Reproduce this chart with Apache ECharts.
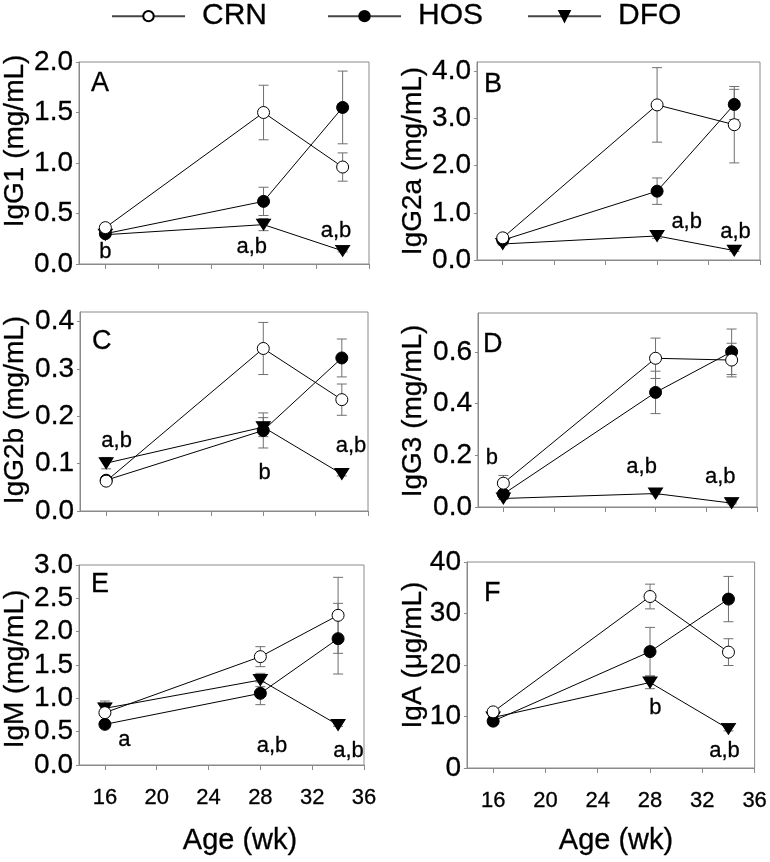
<!DOCTYPE html>
<html><head><meta charset="utf-8">
<script src="https://cdn.jsdelivr.net/npm/echarts@6/dist/echarts.min.js"></script>
<style>html,body{margin:0;padding:0;background:#fff}#c{width:770px;height:862px}</style>
</head><body><div id="c"></div>
<script>
// ---------- data ----------
const ages = [16, 28, 34];
const ageTicks = [16, 20, 24, 28, 32, 36];
const groupNames = ['CRN', 'HOS', 'DFO'];

// A: IgG1 (mg/mL)
const igg1CRN = [0.36, 1.50, 0.96];   const igg1CRNErr = [0.03, 0.27, 0.14];
const igg1HOS = [0.30, 0.62, 1.55];   const igg1HOSErr = [0.02, 0.14, 0.36];
const igg1DFO = [0.29, 0.39, 0.13];   const igg1DFOErr = [0.02, 0.06, 0.01];
const igg1Ticks = [0, 0.5, 1.0, 1.5, 2.0];
const igg1Notes = [[16, 0.12, 'b'], [27.1, 0.17, 'a,b'], [33.5, 0.33, 'a,b']];

// B: IgG2a (mg/mL)
const igg2aCRN = [0.47, 3.29, 2.87];  const igg2aCRNErr = [0.05, 0.79, 0.81];
const igg2aHOS = [0.42, 1.46, 3.30];  const igg2aHOSErr = [0.04, 0.28, 0.32];
const igg2aDFO = [0.34, 0.51, 0.20];  const igg2aDFOErr = [0.02, 0.05, 0.02];
const igg2aTicks = [0, 1.0, 2.0, 3.0, 4.0];
const igg2aNotes = [[30.3, 0.80, 'a,b'], [34.1, 0.59, 'a,b']];

// C: IgG2b (mg/mL)
const igg2bCRN = [0.063, 0.343, 0.235]; const igg2bCRNErr = [0.005, 0.055, 0.033];
const igg2bHOS = [0.065, 0.170, 0.323]; const igg2bHOSErr = [0.005, 0.037, 0.040];
const igg2bDFO = [0.101, 0.177, 0.078]; const igg2bDFOErr = [0.012, 0.020, 0.004];
const igg2bTicks = [0, 0.1, 0.2, 0.3, 0.4];
const igg2bNotes = [[16.8, 0.147, 'a,b'], [28.1, 0.081, 'b'], [34.7, 0.137, 'a,b']];

// D: IgG3 (mg/mL)
const igg3CRN = [0.092, 0.575, 0.568]; const igg3CRNErr = [0.030, 0.078, 0.065];
const igg3HOS = [0.050, 0.443, 0.600]; const igg3HOSErr = [0.010, 0.082, 0.088];
const igg3DFO = [0.033, 0.052, 0.015]; const igg3DFOErr = [0.004, 0.004, 0.003];
const igg3Ticks = [0, 0.2, 0.4, 0.6];
const igg3Notes = [[15.1, 0.19, 'b'], [26.9, 0.156, 'a,b'], [33.1, 0.117, 'a,b']];

// E: IgM (mg/mL)
const igmCRN = [0.785, 1.625, 2.245]; const igmCRNErr = [0.05, 0.15, 0.57];
const igmHOS = [0.61, 1.075, 1.895];  const igmHOSErr = [0.04, 0.17, 0.53];
const igmDFO = [0.85, 1.275, 0.60];   const igmDFOErr = [0.11, 0.10, 0.02];
const igmTicks = [0, 0.5, 1.0, 1.5, 2.0, 2.5, 3.0];
const igmNotes = [[17.5, 0.375, 'a'], [28.9, 0.29, 'a,b'], [34.8, 0.21, 'a,b']];

// F: IgA (µg/mL)
const igaCRN = [10.9, 33.3, 22.5];  const igaCRNErr = [0.5, 2.4, 2.6];
const igaHOS = [9.1, 22.6, 32.8];   const igaHOSErr = [0.5, 4.7, 4.4];
const igaDFO = [9.8, 16.6, 7.6];    const igaDFOErr = [0.5, 1.2, 0.4];
const igaTicks = [0, 10, 20, 30, 40];
const igaNotes = [[28.4, 11.7, 'b'], [33.7, 3.4, 'a,b']];

// ---------- layout ----------
const FONT = "'Liberation Sans', Arial, Helvetica, sans-serif";
const panels = [
  {letter:'A', name:'IgG1 (mg/mL)', vals:[igg1CRN,igg1HOS,igg1DFO], errs:[igg1CRNErr,igg1HOSErr,igg1DFOErr], ticks:igg1Ticks, notes:igg1Notes, max:2.0, dec:1,
   grid:{left:79, top:62, width:290, height:202}, letterPos:[91,84], namePos:[15,141], xLabels:false},
  {letter:'B', name:'IgG2a (mg/mL)', vals:[igg2aCRN,igg2aHOS,igg2aDFO], errs:[igg2aCRNErr,igg2aHOSErr,igg2aDFOErr], ticks:igg2aTicks, notes:igg2aNotes, max:4.2, dec:1,
   grid:{left:477, top:62, width:283, height:198}, letterPos:[484,85], namePos:[413,161], xLabels:false},
  {letter:'C', name:'IgG2b (mg/mL)', vals:[igg2bCRN,igg2bHOS,igg2bDFO], errs:[igg2bCRNErr,igg2bHOSErr,igg2bDFOErr], ticks:igg2bTicks, notes:igg2bNotes, max:0.42, dec:1,
   grid:{left:80, top:312, width:288, height:199}, letterPos:[92,342], namePos:[15,410], xLabels:false},
  {letter:'D', name:'IgG3 (mg/mL)', vals:[igg3CRN,igg3HOS,igg3DFO], errs:[igg3CRNErr,igg3HOSErr,igg3DFOErr], ticks:igg3Ticks, notes:igg3Notes, max:0.75, dec:1,
   grid:{left:478, top:313, width:279, height:194}, letterPos:[483,345], namePos:[413,411], xLabels:false},
  {letter:'E', name:'IgM (mg/mL)', vals:[igmCRN,igmHOS,igmDFO], errs:[igmCRNErr,igmHOSErr,igmDFOErr], ticks:igmTicks, notes:igmNotes, max:3.0, dec:1,
   grid:{left:79, top:565, width:285, height:200}, letterPos:[91,585], namePos:[15,669], xLabels:true, xNamePos:[240,841]},
  {letter:'F', name:'IgA (\u03BCg/mL)', vals:[igaCRN,igaHOS,igaDFO], errs:[igaCRNErr,igaHOSErr,igaDFOErr], ticks:igaTicks, notes:igaNotes, max:40, dec:0,
   grid:{left:467, top:562, width:295, height:206}, letterPos:[484,594], namePos:[413,655], xLabels:true, xNamePos:[616,841]}
];

const AXIS_GRAY = '#8a8a8a';
const ERR_GRAY = '#6f6f6f';
const symbols = ['circle', 'circle', 'path://M0,0 L14,0 L7,11 Z'];
const symbolSizes = [12, 12, [14, 11]];
const fills = ['#ffffff', '#000000', '#000000'];
const zs = [6, 5, 4];
const TXT = {textBorderColor: '#000', textBorderWidth: 0.3};

function errRender(params, api) {
  const x = api.value(0), y = api.value(1), e = api.value(2);
  const t = api.coord([x, y + e]), b = api.coord([x, y - e]);
  const cw = 5;
  const style = {stroke: ERR_GRAY, lineWidth: 1};
  return {type: 'group', children: [
    {type: 'line', shape: {x1: t[0], y1: t[1], x2: b[0], y2: b[1]}, style: style},
    {type: 'line', shape: {x1: t[0] - cw, y1: t[1], x2: t[0] + cw, y2: t[1]}, style: style},
    {type: 'line', shape: {x1: b[0] - cw, y1: b[1], x2: b[0] + cw, y2: b[1]}, style: style}
  ]};
}

const grids = [], xAxes = [], yAxes = [], series = [], graphics = [];
panels.forEach((p, i) => {
  grids.push(Object.assign({show: true, borderColor: AXIS_GRAY, borderWidth: 1, backgroundColor: 'transparent'}, p.grid));
  xAxes.push({
    type: 'value', gridIndex: i, min: 14, max: 36,
    axisLine: {show: true, lineStyle: {color: AXIS_GRAY, width: 1}},
    axisTick: {show: true, length: 5, lineStyle: {color: AXIS_GRAY}, customValues: ageTicks},
    axisLabel: Object.assign({show: p.xLabels, customValues: ageTicks, fontSize: 22, fontFamily: FONT, color: '#000', margin: 22}, TXT),
    splitLine: {show: false}
  });
  yAxes.push({
    type: 'value', gridIndex: i, min: 0, max: p.max,
    axisLine: {show: true, lineStyle: {color: AXIS_GRAY, width: 1}},
    axisTick: {show: true, length: 3, lineStyle: {color: AXIS_GRAY}, customValues: p.ticks},
    axisLabel: Object.assign({customValues: p.ticks, fontSize: 28, fontFamily: FONT, color: '#000', margin: 6,
      formatter: v => Number(v).toFixed(p.dec)}, TXT),
    splitLine: {show: false}
  });
  groupNames.forEach((g, k) => {
    series.push({
      type: 'custom', name: g + ' SE', xAxisIndex: i, yAxisIndex: i, z: 2, silent: true,
      renderItem: errRender, encode: {x: 0, y: 1},
      data: ages.map((a, j) => [a, p.vals[k][j], p.errs[k][j]])
    });
  });
  [2, 1, 0].forEach(k => {
    series.push({
      type: 'line', name: groupNames[k], xAxisIndex: i, yAxisIndex: i, z: zs[k],
      symbol: symbols[k], symbolSize: symbolSizes[k], showSymbol: true, animation: false,
      lineStyle: {color: '#000', width: 1},
      itemStyle: {color: fills[k], borderColor: '#000', borderWidth: 1, opacity: 1},
      data: ages.map((a, j) => [a, p.vals[k][j]])
    });
  });
  series.push({
    type: 'scatter', name: 'notes', xAxisIndex: i, yAxisIndex: i, z: 8, silent: true,
    symbolSize: 1, itemStyle: {color: 'rgba(0,0,0,0)', opacity: 1},
    label: Object.assign({show: true, position: 'inside', formatter: '{b}', fontSize: 22, fontFamily: FONT, color: '#000'}, TXT),
    data: p.notes.map(n => ({name: n[2], value: [n[0], n[1]]}))
  });
  graphics.push({type: 'text', x: p.letterPos[0], y: p.letterPos[1],
    style: {text: p.letter, fontSize: 27, fontFamily: FONT, fill: '#000', stroke: '#000', lineWidth: 0.3, align: 'left', verticalAlign: 'middle'}});
  graphics.push({type: 'text', x: p.namePos[0], y: p.namePos[1], rotation: Math.PI / 2,
    style: {text: p.name, fontSize: 28, fontFamily: FONT, fill: '#000', stroke: '#000', lineWidth: 0.3, align: 'center', verticalAlign: 'middle'}});
  if (p.xNamePos) {
    graphics.push({type: 'text', x: p.xNamePos[0], y: p.xNamePos[1],
      style: {text: 'Age (wk)', fontSize: 29, fontFamily: FONT, fill: '#000', stroke: '#000', lineWidth: 0.3, align: 'center', verticalAlign: 'middle'}});
  }
});

const legendBase = {
  top: 1, padding: 0, itemWidth: 73, itemHeight: 13, selectedMode: false,
  lineStyle: {width: 2, color: '#444'},
  textStyle: Object.assign({fontSize: 30, fontFamily: FONT, color: '#000', padding: [0, 0, 0, 12]}, TXT)
};
const legendLeft = [111, 327, 527];

const option = {
  animation: false,
  backgroundColor: '#fff',
  legend: groupNames.map((g, k) => Object.assign({}, legendBase, {left: legendLeft[k], data: [g]})),
  grid: grids, xAxis: xAxes, yAxis: yAxes, series: series, graphic: graphics
};
const chart = echarts.init(document.getElementById('c'), null, {renderer: 'canvas'});
chart.setOption(option);
</script></body></html>
